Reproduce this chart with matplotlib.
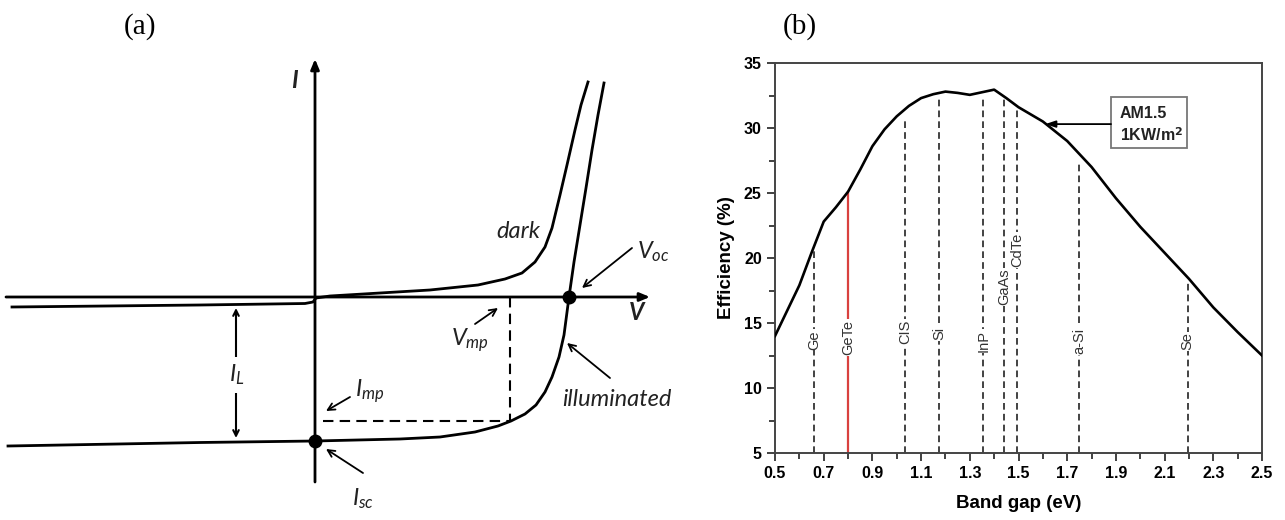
import matplotlib
matplotlib.use('Agg')
import matplotlib.pyplot as plt
from matplotlib.patches import Rectangle
from matplotlib.ticker import MultipleLocator

plt.rcParams['font.family'] = ['Liberation Sans', 'DejaVu Sans']
plt.rcParams['mathtext.fontset'] = 'custom'
plt.rcParams['mathtext.it'] = 'Lato:italic'
plt.rcParams['mathtext.rm'] = 'Lato'

# ---- panel (a): schematic I-V curves (V, I in arbitrary units) ----
dark_v = [-3.03, -1.15, -0.10, -0.02, 0.01, 0.15, 0.65, 1.15, 1.63, 1.90, 2.07,
          2.20, 2.30, 2.37, 2.45, 2.52, 2.60, 2.66, 2.73]
dark_i = [-0.10, -0.08, -0.065, -0.05, -0.01, 0.01, 0.04, 0.07, 0.12, 0.18, 0.24,
          0.35, 0.50, 0.69, 1.02, 1.32, 1.67, 1.92, 2.15]
illum_v = [-3.07, -1.15, 0.0, 0.85, 1.25, 1.60, 1.83, 1.96, 2.10, 2.21, 2.30,
           2.37, 2.44, 2.49, 2.54, 2.59, 2.65, 2.71, 2.77, 2.83, 2.89]
illum_i = [-1.49, -1.455, -1.44, -1.42, -1.40, -1.35, -1.29, -1.24, -1.17, -1.08, -0.95,
           -0.80, -0.60, -0.38, 0.0, 0.35, 0.72, 1.09, 1.47, 1.82, 2.14]
v_oc, i_sc = 2.54, -1.44
v_mp, i_mp = 1.95, -1.24
i_l_pos = -0.79

# ---- panel (b): efficiency vs band gap ----
bandgap = [0.5, 0.6, 0.65, 0.7, 0.75, 0.8, 0.85, 0.9, 0.95, 1.0, 1.05, 1.1, 1.15,
           1.2, 1.25, 1.3, 1.35, 1.4, 1.45, 1.5, 1.6, 1.7, 1.8, 1.9, 2.0, 2.1,
           2.2, 2.3, 2.4, 2.5]
efficiency = [14.0, 17.9, 20.4, 22.8, 23.9, 25.1, 26.8, 28.6, 29.9, 30.9, 31.7, 32.3, 32.6,
              32.8, 32.7, 32.55, 32.75, 32.95, 32.3, 31.6, 30.5, 29.0, 27.0, 24.6, 22.4, 20.4,
              18.4, 16.2, 14.3, 12.5]
materials = ['Ge', 'GeTe', 'CIS', 'Si', 'InP', 'GaAs', 'CdTe', 'a-Si', 'Se']
mat_gap = [0.66, 0.80, 1.035, 1.175, 1.355, 1.44, 1.495, 1.75, 2.195]
mat_top = [20.7, 25.1, 30.8, 32.5, 32.4, 32.2, 31.6, 27.3, 18.2]
mat_label_y = [13.7, 13.9, 14.3, 14.2, 13.6, 17.8, 20.6, 13.6, 13.6]
xtick_vals = [0.5, 0.7, 0.9, 1.1, 1.3, 1.5, 1.7, 1.9, 2.1, 2.3, 2.5]

fig = plt.figure(figsize=(12.85, 5.2), dpi=100)

# ================= (a) =================
ax = fig.add_axes([0, 0, 680 / 1285, 1])
ax.set_xlim(-3.15, 3.65)
ax.set_ylim(-2.23, 2.97)
ax.axis('off')

axis_kw = dict(arrowstyle='-|>,head_length=0.6,head_width=0.25', lw=2.0, color='black',
               shrinkA=0, shrinkB=0)
ax.annotate('', xy=(3.35, 0), xytext=(-3.09, 0), arrowprops=axis_kw)
ax.annotate('', xy=(0, 2.38), xytext=(0, -1.85), arrowprops=axis_kw)

ax.plot(dark_v, dark_i, color='black', lw=2.0)
ax.plot(illum_v, illum_i, color='black', lw=2.0)
ax.plot([v_oc, 0], [0, i_sc], 'o', color='black', ms=9, zorder=5)
ax.plot([v_mp, v_mp], [0, i_mp], color='black', lw=1.5, ls=(0, (5, 3)))
ax.plot([0.08, v_mp], [i_mp, i_mp], color='black', lw=1.5, ls=(0, (5, 3)))

ax.annotate('', xy=(i_l_pos, -0.11), xytext=(i_l_pos, -1.41),
            arrowprops=dict(arrowstyle='<->', lw=1.5, color='black', shrinkA=0, shrinkB=0))

lab = dict(fontfamily='Lato', fontstyle='italic', color='#222222', ha='center', va='center')
ax.text(-0.21, 2.17, 'I', fontsize=17, fontweight='bold', **lab)
ax.text(3.22, -0.16, 'V', fontsize=17, fontweight='bold', **lab)
ax.text(2.03, 0.65, 'dark', fontsize=17, **lab)
ax.text(3.02, -1.03, 'illuminated', fontsize=17, **lab)
ax.text(i_l_pos + 0.01, -0.78, r'$I_L$', fontsize=17,
        bbox=dict(facecolor='white', edgecolor='none', pad=4), **lab)

arr = dict(arrowstyle='->,head_length=0.5,head_width=0.25', lw=1.3, color='black',
           shrinkA=0, shrinkB=0)
ax.annotate('', xy=(2.67, 0.09), xytext=(3.17, 0.49), arrowprops=arr)
ax.text(3.38, 0.45, r'$V_{oc}$', fontsize=17, **lab)
ax.annotate('', xy=(1.83, -0.11), xytext=(1.60, -0.27), arrowprops=arr)
ax.text(1.55, -0.43, r'$V_{mp}$', fontsize=17, **lab)
ax.annotate('', xy=(2.52, -0.46), xytext=(2.95, -0.81), arrowprops=arr)
ax.annotate('', xy=(0.11, -1.14), xytext=(0.35, -1.00), arrowprops=arr)
ax.text(0.55, -0.94, r'$I_{mp}$', fontsize=17, **lab)
ax.annotate('', xy=(0.11, -1.52), xytext=(0.48, -1.76), arrowprops=arr)
ax.text(0.48, -2.02, r'$I_{sc}$', fontsize=17, **lab)

fig.text(140 / 1285, 1 - 27 / 520, '(a)', fontfamily='Liberation Serif', fontsize=21,
         ha='center', va='center')
fig.text(800 / 1285, 1 - 27 / 520, '(b)', fontfamily='Liberation Serif', fontsize=21,
         ha='center', va='center')

# ================= (b) =================
bx = fig.add_axes([775 / 1285, 1 - 453 / 520, 487 / 1285, 390 / 520])
bx.plot(bandgap, efficiency, color='black', lw=1.9, zorder=4)
for name, g, top, ly in zip(materials, mat_gap, mat_top, mat_label_y):
    if name == 'GeTe':
        bx.plot([g, g], [5, top], color='#d9413f', lw=1.6, zorder=2)
    else:
        bx.plot([g, g], [5, top], color='#222222', lw=1.2, ls=(0, (4, 2.5)), zorder=2)
    bx.text(g, ly, name, rotation=90, fontsize=10.5, color='#333333', ha='center',
            va='center', zorder=3, bbox=dict(facecolor='white', edgecolor='none', pad=0.5))

bx.add_patch(Rectangle((1.88, 28.5), 0.31, 3.9, facecolor='white', edgecolor='#777777',
                       lw=1.3, zorder=5))
bx.text(1.917, 31.15, 'AM1.5', fontsize=11.5, fontweight='bold', color='#222222',
        va='center', zorder=6)
bx.text(1.917, 29.45, r'1KW/m$^\mathbf{2}$', fontsize=11.5, fontweight='bold',
        color='#222222', va='center', zorder=6)
bx.annotate('', xy=(1.61, 30.3), xytext=(1.88, 30.3),
            arrowprops=dict(arrowstyle='-|>,head_length=0.6,head_width=0.2', lw=1.3,
                            color='black', shrinkA=0, shrinkB=0), zorder=6)

bx.set_xlim(0.5, 2.5)
bx.set_ylim(5, 35)
bx.set_xticks(xtick_vals)
bx.xaxis.set_minor_locator(MultipleLocator(0.1))
bx.yaxis.set_major_locator(MultipleLocator(5))
bx.yaxis.set_minor_locator(MultipleLocator(2.5))
bx.tick_params(which='both', direction='out', top=False, right=False, width=1.3,
               color='#333333')
bx.tick_params(which='major', length=6, labelsize=11.5)
bx.tick_params(which='minor', length=4)
for t in bx.get_xticklabels() + bx.get_yticklabels():
    t.set_fontweight('bold')
for s in bx.spines.values():
    s.set_linewidth(1.4)
    s.set_color('#444444')
bx.set_xlabel('Band gap (eV)', fontsize=13.5, fontweight='bold', labelpad=10)
bx.set_ylabel('Efficiency (%)', fontsize=13.5, fontweight='bold', labelpad=6)

fig.savefig('out.png', dpi=100)
